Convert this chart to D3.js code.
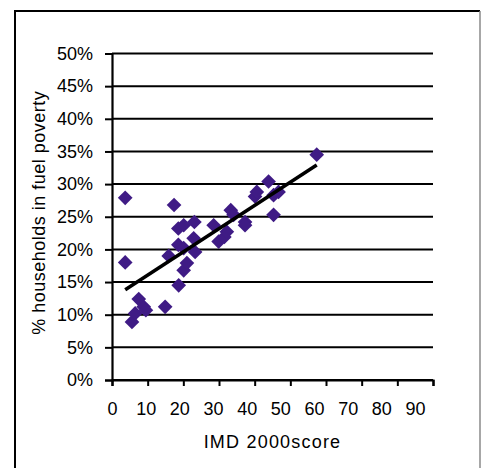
<!DOCTYPE html>
<html>
<head>
<meta charset="utf-8">
<script src="https://cdn.jsdelivr.net/npm/d3@7"></script>
<style>
  html, body { margin: 0; padding: 0; background: #fff; }
  svg { display: block; }
  text { font-family: "Liberation Sans", Arial, sans-serif; fill: #000; }
</style>
</head>
<body>
<svg id="chart" width="482" height="468"></svg>
<script>
// IMD 2000 score per area
const imdScore = [3.7, 3.7, 5.6, 6.5, 7.5, 8.9, 9.5, 14.9, 15.9, 17.4, 18.6, 18.6, 18.7,
  20.1, 20.1, 20.1, 21.0, 22.9, 23.1, 23.3, 28.5, 29.9, 31.5, 32.2, 33.3, 34.1,
  37.3, 37.3, 40.1, 40.6, 43.9, 45.3, 46.7, 45.3, 57.4];
// share of households in fuel poverty for the same areas
const fuelPoverty = [0.279, 0.180, 0.089, 0.102, 0.124, 0.112, 0.107, 0.112, 0.190, 0.268, 0.232, 0.207, 0.145,
  0.237, 0.202, 0.168, 0.179, 0.217, 0.242, 0.196, 0.237, 0.212, 0.219, 0.227, 0.260, 0.253,
  0.242, 0.237, 0.281, 0.288, 0.304, 0.283, 0.288, 0.253, 0.345];
const xTicks = [0, 10, 20, 30, 40, 50, 60, 70, 80, 90];
const yTicks = [0, 0.05, 0.10, 0.15, 0.20, 0.25, 0.30, 0.35, 0.40, 0.45, 0.50];
const xTitle = "IMD 2000score";
const yTitle = "% households in fuel poverty";

const svg = d3.select("#chart");
const points = imdScore.map((v, i) => ({ x: v, y: fuelPoverty[i] }));

// outer chart frame: dark left/top edges, lighter right edge
svg.append("path")
  .attr("d", "M15,470 V11 H480")
  .attr("fill", "none").attr("stroke", "#000").attr("stroke-width", 2);
svg.append("line")
  .attr("x1", 480).attr("x2", 480).attr("y1", 11).attr("y2", 470)
  .attr("stroke", "#8a8a8a").attr("stroke-width", 1.5);

const x = d3.scaleLinear().domain([0, 90]).range([112, 433]);
const y = d3.scaleLinear().domain([0, 0.5]).range([380, 53.5]);
// tick labels sit slightly packed towards the origin
const xLabel = d3.scaleLinear().domain([0, 90]).range([x(0), x(90) - 18]);

// horizontal gridlines
svg.append("g")
  .selectAll("line")
  .data(yTicks)
  .join("line")
  .attr("x1", x(0)).attr("x2", x(90))
  .attr("y1", d => y(d)).attr("y2", d => y(d))
  .attr("stroke", "#000").attr("stroke-width", 2);

// y axis
const yAxis = svg.append("g")
  .attr("transform", `translate(${x(0)},0)`)
  .call(d3.axisLeft(y).tickValues(yTicks).tickFormat(d3.format(".0%")).tickSize(7).tickPadding(12));
yAxis.select(".domain").attr("stroke", "#000").attr("stroke-width", 2.2);
yAxis.selectAll(".tick line").attr("stroke", "#000").attr("stroke-width", 2);
yAxis.selectAll(".tick text").style("font-size", "18px").style("font-family", "Liberation Sans, Arial, sans-serif");

// x axis
const xAxis = svg.append("g")
  .attr("transform", `translate(0,${y(0)})`)
  .call(d3.axisBottom(x).tickValues(xTicks).tickSize(6).tickSizeOuter(6).tickFormat(d3.format("d")));
xAxis.select(".domain").attr("stroke", "#000").attr("stroke-width", 2.2);
xAxis.selectAll(".tick line").attr("stroke", "#000").attr("stroke-width", 2);
xAxis.selectAll(".tick text")
  .style("font-size", "18px").style("font-family", "Liberation Sans, Arial, sans-serif")
  .attr("dy", null).attr("y", 35)
  .attr("x", d => xLabel(d) - x(d));

// trend line (least squares) across the data range
const mx = d3.mean(points, d => d.x), my = d3.mean(points, d => d.y);
const slope = d3.sum(points, d => (d.x - mx) * (d.y - my)) / d3.sum(points, d => (d.x - mx) ** 2);
const intercept = my - slope * mx;
const [xmin, xmax] = d3.extent(points, d => d.x);

// data points
svg.append("g")
  .selectAll("path")
  .data(points)
  .join("path")
  .attr("d", d3.symbol(d3.symbolSquare, 108))
  .attr("transform", d => `translate(${x(d.x)},${y(d.y)}) rotate(45)`)
  .attr("fill", "#3f1b85");

svg.append("line")
  .attr("x1", x(xmin)).attr("y1", y(intercept + slope * xmin))
  .attr("x2", x(xmax)).attr("y2", y(intercept + slope * xmax))
  .attr("stroke", "#000").attr("stroke-width", 3.5);

// axis titles
svg.append("text")
  .attr("x", (x(0) + x(90)) / 2).attr("y", 448)
  .attr("text-anchor", "middle")
  .style("font-size", "18px")
  .style("letter-spacing", "1.2px")
  .text(xTitle);

svg.append("text")
  .attr("transform", `translate(45,${(y(0) + y(0.5)) / 2 - 4}) rotate(-90)`)
  .attr("text-anchor", "middle")
  .style("font-size", "18px")
  .style("letter-spacing", "0.5px")
  .text(yTitle);
</script>
</body>
</html>
